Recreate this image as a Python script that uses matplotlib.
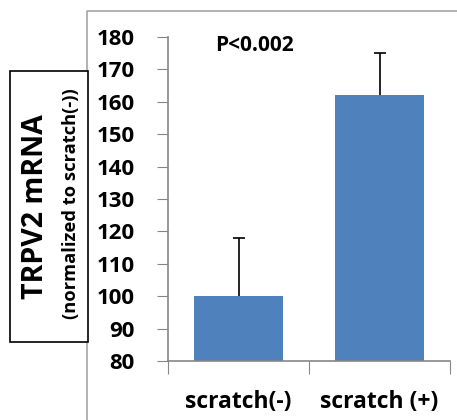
import matplotlib.pyplot as plt
from matplotlib.lines import Line2D
from matplotlib.patches import Rectangle

W, H = 457, 420

categories = ['scratch(-)', 'scratch (+)']
values = [100, 162]
errors = [18, 13]
yticks = [80, 90, 100, 110, 120, 130, 140, 150, 160, 170, 180]
p_text = 'P<0.002'

plt.rcParams['font.family'] = ['Open Sans', 'DejaVu Sans']
plt.rcParams['font.weight'] = 'bold'

fig = plt.figure(figsize=(W / 100, H / 100), dpi=100)


def px(x, y):
    # pixel coords (top-left origin) -> figure fraction
    return x / W, 1 - y / H


# outer frame (top and left gray lines)
fig.add_artist(Line2D([87 / W, 87 / W, 1], [0, 1 - 11 / H, 1 - 11 / H],
                      color='#a6a6a6', lw=1.2))

# axes placed to match the plot area
x0, y0 = px(168, 361)
x1, y1 = px(450, 37)
ax = fig.add_axes([x0, y0, x1 - x0, y1 - y0])

pos = [0, 1]
ax.bar(pos, [v - 80 for v in values], bottom=80, width=0.63,
       color='#4f81bd', zorder=2)
eb = ax.errorbar(pos, values, yerr=[[0, 0], errors], fmt='none',
                 ecolor='black', elinewidth=1.2, capsize=4, capthick=1.2,
                 zorder=3)
# only upper caps
eb[1][0].set_visible(False)

ax.set_xlim(-0.5, 1.5)
ax.set_ylim(80, 180)
ax.set_yticks(yticks)
ax.set_yticklabels([str(t) for t in yticks], fontsize=16, fontweight='bold')

ax.set_xticks([-0.5, 0.5, 1.5])
ax.set_xticklabels([])
ax.set_xticks(pos, minor=True)
ax.set_xticklabels(categories, minor=True, fontsize=16.5, fontweight='bold')
ax.tick_params(axis='x', which='minor', length=0, pad=21)
ax.tick_params(axis='x', which='major', length=9, color='#868686', direction='out')
ax.tick_params(axis='y', length=8, color='#868686', direction='out', pad=16)

for s in ['top', 'right']:
    ax.spines[s].set_visible(False)
for s in ['left', 'bottom']:
    ax.spines[s].set_color('#868686')
    ax.spines[s].set_linewidth(1.2)

ax.text(0.305, 0.974, p_text, transform=ax.transAxes, fontsize=15,
        fontweight='bold', va='center', ha='center')

# y-label box
bx0, by0 = px(10, 342)
bx1, by1 = px(88, 71)
fig.add_artist(Rectangle((bx0, by0), bx1 - bx0, by1 - by0,
                         transform=fig.transFigure, facecolor='white',
                         edgecolor='black', lw=1.2, zorder=5))
tx, ty = px(36, 207)
fig.text(tx, ty, 'TRPV2 mRNA', rotation=90, fontsize=20.5, fontweight='bold',
         ha='center', va='center', zorder=6)
tx, ty = px(71, 204)
fig.text(tx, ty, '(normalized to scratch(-))', rotation=90, fontsize=13.2,
         fontweight='bold', ha='center', va='center', zorder=6)

fig.savefig('out.png', dpi=100)
